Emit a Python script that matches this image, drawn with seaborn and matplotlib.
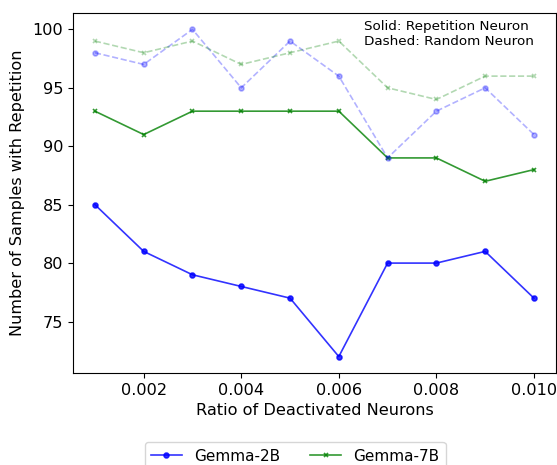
import numpy as np
import pandas as pd
import seaborn as sns
import matplotlib
matplotlib.use("Agg")
import matplotlib.pyplot as plt

ratios = [0.001, 0.002, 0.003, 0.004, 0.005, 0.006, 0.007, 0.008, 0.009, 0.010]
gemma2b_rep = [85, 81, 79, 78, 77, 72, 80, 80, 81, 77]
gemma7b_rep = [93, 91, 93, 93, 93, 93, 89, 89, 87, 88]
gemma2b_rand = [98, 97, 100, 95, 99, 96, 89, 93, 95, 91]
gemma7b_rand = [99, 98, 99, 97, 98, 99, 95, 94, 96, 96]


def plot_series(ax, x, y, color, marker, ls, alpha, label=None, ms=4):
    sns.lineplot(x=x, y=y, ax=ax, color=color, marker=marker, linestyle=ls,
                 alpha=alpha, label=label, markersize=ms, linewidth=1.2,
                 markeredgecolor=color, markeredgewidth=1.2)


fig = plt.figure(figsize=(5.57, 4.65), dpi=100)
ax = fig.add_axes([0.131, 0.198, 0.867, 0.774])

plot_series(ax, ratios, gemma2b_rep, 'blue', 'o', '-', 0.8, 'Gemma-2B', ms=3.5)
plot_series(ax, ratios, gemma7b_rep, 'green', 'x', '-', 0.8, 'Gemma-7B', ms=3)
plot_series(ax, ratios, gemma2b_rand, 'blue', 'o', '--', 0.3, ms=3.5)
plot_series(ax, ratios, gemma7b_rand, 'green', 'x', '--', 0.3, ms=3)

ax.set_xlabel('Ratio of Deactivated Neurons', fontsize=11.6)
ax.set_ylabel('Number of Samples with Repetition', fontsize=11.6)
ax.yaxis.set_label_coords(-0.1, 0.5)
ax.tick_params(labelsize=11.6)
ax.set_xticks([0.002, 0.004, 0.006, 0.008, 0.010])
ax.set_yticks([75, 80, 85, 90, 95, 100])

ax.text(0.603, 0.98, 'Solid: Repetition Neuron\nDashed: Random Neuron',
        transform=ax.transAxes, fontsize=9.7, va='top', ha='left')

ax.get_legend().remove()
fig.legend(loc='upper center', bbox_to_anchor=(0.53, 0.065), ncol=2,
           fontsize=11, frameon=True)

fig.savefig('out.png', dpi=100)
